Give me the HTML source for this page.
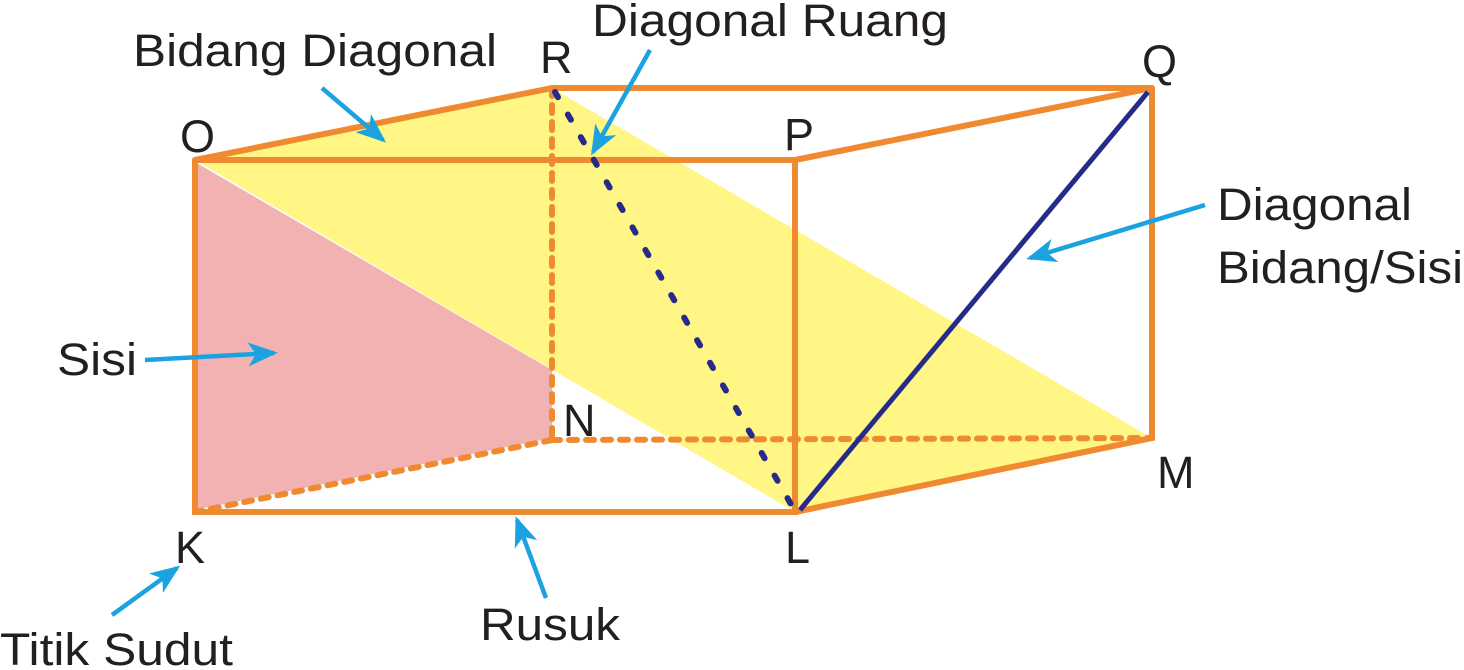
<!DOCTYPE html>
<html><head><meta charset="utf-8"><style>
html,body{margin:0;padding:0;background:#fff}
svg{display:block}
text{font-family:"Liberation Sans",sans-serif;font-size:45px;fill:#231f20}
</style></head><body>
<svg width="1464" height="670" viewBox="0 0 1464 670">
<defs>
<marker id="ah" markerWidth="30" markerHeight="24" refX="26" refY="12" orient="auto" markerUnits="userSpaceOnUse" viewBox="0 0 30 24">
<path d="M0,0 L30,12 L0,24 L8,12 z" fill="#1aa3e0"/>
</marker>
</defs>
<polygon points="195,160 552,88 1152,438 795,512" fill="#fff685"/>
<polygon points="195,162 552,370 552,438 195,510" fill="#f2b2b2"/>
<g stroke="#f08a30" stroke-width="6" fill="none" stroke-linecap="round">
<line x1="552" y1="88" x2="552" y2="440" stroke-dasharray="8,9"/>
<line x1="552" y1="440" x2="195" y2="512" stroke-dasharray="8,9"/>
<line x1="552" y1="440" x2="1152" y2="438" stroke-dasharray="8,9"/>
<polyline points="195,160 795,160 795,512 195,512 195,160"/>
<polyline points="195,160 552,88 1152,88 795,160"/>
<polyline points="1152,88 1152,438 795,512"/>
</g>
<line x1="555" y1="92" x2="792" y2="506" stroke="#262a8a" stroke-width="6" stroke-dasharray="6,20" stroke-linecap="round"/>
<line x1="800" y1="510" x2="1148" y2="92" stroke="#262a8a" stroke-width="5"/>
<g stroke="#1aa3e0" stroke-width="4.5" marker-end="url(#ah)">
<line x1="322" y1="88" x2="383" y2="140"/>
<line x1="650" y1="50" x2="593" y2="152"/>
<line x1="1205" y1="205" x2="1030" y2="258"/>
<line x1="145" y1="360" x2="274" y2="353"/>
<line x1="112" y1="615" x2="177" y2="568"/>
<line x1="546" y1="598" x2="517" y2="520"/>
</g>
<text x="133" y="66" textLength="364" lengthAdjust="spacingAndGlyphs">Bidang Diagonal</text>
<text x="592" y="36" textLength="356" lengthAdjust="spacingAndGlyphs">Diagonal Ruang</text>
<text x="540" y="73">R</text>
<text x="1142" y="77">Q</text>
<text x="180" y="152">O</text>
<text x="784" y="150">P</text>
<text x="1217" y="220" textLength="195" lengthAdjust="spacingAndGlyphs">Diagonal</text>
<text x="1217" y="283" textLength="246" lengthAdjust="spacingAndGlyphs">Bidang/Sisi</text>
<text x="57" y="375" textLength="80" lengthAdjust="spacingAndGlyphs">Sisi</text>
<text x="563" y="436">N</text>
<text x="1157" y="488">M</text>
<text x="175" y="563">K</text>
<text x="785" y="563">L</text>
<text x="0" y="665" textLength="233" lengthAdjust="spacingAndGlyphs">Titik Sudut</text>
<text x="480" y="640" textLength="140" lengthAdjust="spacingAndGlyphs">Rusuk</text>
</svg>
</body></html>
